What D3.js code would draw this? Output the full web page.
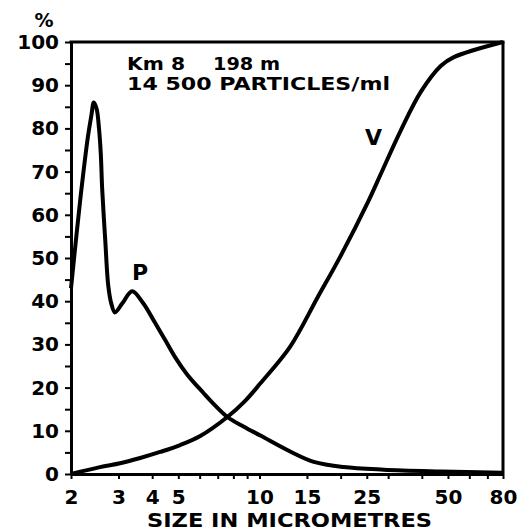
<!DOCTYPE html>
<html>
<head>
<meta charset="utf-8">
<script src="https://cdn.jsdelivr.net/npm/d3@7"></script>
<style>
  body { margin: 0; background: #fff; }
  svg text { font-family: "DejaVu Sans", sans-serif; font-weight: bold; fill: #000; }
</style>
</head>
<body>
<div id="chart"></div>
<script>
// curve P (number of particles) and curve V (cumulative volume)
const pSize = [2.0, 2.16, 2.31, 2.38, 2.43, 2.49, 2.54, 2.58, 2.61, 2.68, 2.75, 2.82, 2.91, 3.1, 3.37, 3.7, 4.1, 4.47, 4.87, 5.4, 6.19, 6.74, 7.6, 8.72, 10.08, 13, 15.9, 20.5, 28.9, 47.1, 80];
const pPct  = [43, 63, 78, 83, 86, 84.5, 80, 74, 66, 54, 43.5, 39.5, 37.4, 39.5, 42.3, 39.6, 35, 31, 27, 23, 18.8, 16.3, 13.2, 11, 8.9, 5.2, 2.8, 1.6, 1.0, 0.6, 0.3];

const vSize = [2, 2.56, 3.04, 3.61, 4.28, 5.08, 6.03, 7.6, 8.87, 10.08, 13, 16.4, 20, 25.4, 28.2, 33.4, 39.7, 47.1, 52.6, 80];
const vPct  = [0, 1.6, 2.5, 3.7, 5.1, 6.7, 8.8, 13.2, 17, 21, 29.5, 40.8, 50.5, 63.3, 69.5, 79.5, 88.5, 94.5, 96.5, 100];

const xTicks  = [2, 3, 4, 5, 6, 7, 8, 9, 10, 15, 20, 25, 30, 40, 50, 60, 70, 80];
const xLabels = [2, 3, 4, 5, 10, 15, 25, 50, 80];
const yTicks  = [0, 5, 10, 15, 20, 25, 30, 35, 40, 45, 50, 55, 60, 65, 70, 75, 80, 85, 90, 95, 100];
const yLabels = [0, 10, 20, 30, 40, 50, 60, 70, 80, 90, 100];

const W = 525, H = 531;
const margin = {top: 42, right: 22, bottom: 57, left: 71};
const width = W - margin.left - margin.right,
      height = H - margin.top - margin.bottom;

const svg = d3.select("#chart")
  .append("svg")
    .attr("width", W)
    .attr("height", H)
  .append("g")
    .attr("transform", `translate(${margin.left}, ${margin.top})`);

const x = d3.scaleLog()
  .domain([2, 80])
  .range([0, width]);

const y = d3.scaleLinear()
  .domain([0, 100])
  .range([height, 0]);

// Y axis
const yAxis = svg.append("g")
  .call(d3.axisLeft(y)
    .tickValues(yTicks)
    .tickSize(6)
    .tickSizeOuter(0)
    .tickPadding(6)
    .tickFormat(d => yLabels.includes(d) ? d : ""));
yAxis.select(".domain").attr("stroke-width", 3);
yAxis.selectAll(".tick line").attr("stroke-width", 2);
yAxis.selectAll(".tick text").style("font-size", "20px");

// X axis
const xAxis = svg.append("g")
  .attr("transform", `translate(0, ${height})`)
  .call(d3.axisBottom(x)
    .tickValues(xTicks)
    .tickSize(5)
    .tickSizeOuter(0)
    .tickPadding(11)
    .tickFormat(d => xLabels.includes(d) ? d : ""));
xAxis.select(".domain").attr("stroke-width", 3);
xAxis.selectAll(".tick line").attr("stroke-width", 2);
xAxis.selectAll(".tick text").style("font-size", "20px");

// frame top and right
svg.append("line")
  .attr("x1", -1.5).attr("x2", width + 1.5)
  .attr("y1", 0).attr("y2", 0)
  .attr("stroke", "#000").attr("stroke-width", 3);
svg.append("line")
  .attr("x1", width).attr("x2", width)
  .attr("y1", 0).attr("y2", height)
  .attr("stroke", "#000").attr("stroke-width", 3);

// curves
const lineP = d3.line()
  .x((d, i) => x(pSize[i]))
  .y(d => y(d))
  .curve(d3.curveCatmullRom.alpha(0.5));

const lineV = d3.line()
  .x((d, i) => x(vSize[i]))
  .y(d => y(d))
  .curve(d3.curveCatmullRom.alpha(0.5));

svg.append("path")
  .datum(pPct)
  .attr("fill", "none")
  .attr("stroke", "#000")
  .attr("stroke-width", 4)
  .attr("stroke-linejoin", "round")
  .attr("d", lineP);

svg.append("path")
  .datum(vPct)
  .attr("fill", "none")
  .attr("stroke", "#000")
  .attr("stroke-width", 4)
  .attr("stroke-linejoin", "round")
  .attr("d", lineV);

// labels
svg.append("text")
  .attr("x", 44 - margin.left)
  .attr("y", 27 - margin.top)
  .attr("text-anchor", "middle")
  .style("font-size", "19px")
  .text("%");

svg.append("text")
  .attr("x", 132 - margin.left)
  .attr("y", 280 - margin.top)
  .style("font-size", "22px")
  .text("P");

svg.append("text")
  .attr("x", 365 - margin.left)
  .attr("y", 145 - margin.top)
  .style("font-size", "22px")
  .text("V");

svg.append("text")
  .attr("x", 127 - margin.left)
  .attr("y", 70 - margin.top)
  .attr("textLength", 58)
  .attr("lengthAdjust", "spacingAndGlyphs")
  .style("font-size", "17px")
  .text("Km 8");

svg.append("text")
  .attr("x", 213 - margin.left)
  .attr("y", 70 - margin.top)
  .attr("textLength", 67)
  .attr("lengthAdjust", "spacingAndGlyphs")
  .style("font-size", "17px")
  .text("198 m");

svg.append("text")
  .attr("x", 127 - margin.left)
  .attr("y", 90 - margin.top)
  .attr("textLength", 263)
  .attr("lengthAdjust", "spacingAndGlyphs")
  .style("font-size", "17px")
  .text("14 500 PARTICLES/ml");

svg.append("text")
  .attr("x", 147 - margin.left)
  .attr("y", 527 - margin.top)
  .attr("textLength", 285)
  .attr("lengthAdjust", "spacingAndGlyphs")
  .style("font-size", "20px")
  .text("SIZE IN MICROMETRES");
</script>
</body>
</html>
